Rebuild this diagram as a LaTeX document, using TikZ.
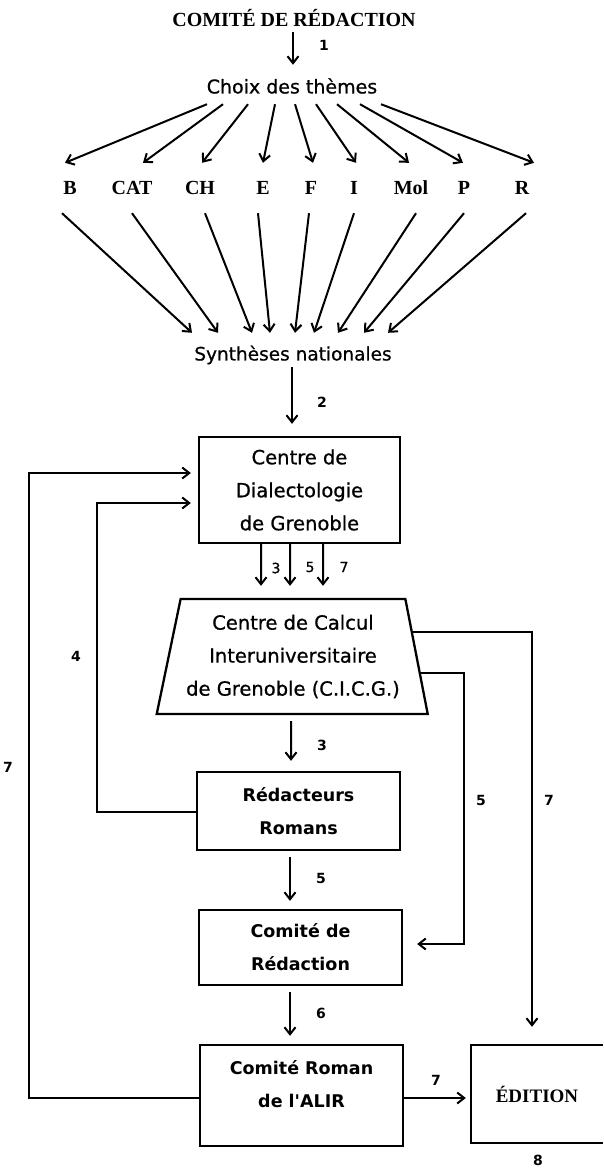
\documentclass[tikz,border=0pt]{standalone}
\usepackage{fontspec}
\usetikzlibrary{arrows.meta,shapes.geometric,calc}
\newfontfamily\sfx[FakeBold=0.8]{DejaVu Sans}
\newfontfamily\sfb{DejaVu Sans Bold}
\newfontfamily\srx{Liberation Serif}
\begin{document}
\begin{tikzpicture}[x=1pt,y=-1pt,
  arr/.style={line width=2pt,-{Straight Barb[length=7pt,width=11pt,line width=2pt]}},
  box/.style={draw,line width=2.3pt,rectangle,inner sep=0pt,align=center},
  boxreg/.style={font=\sfx\fontsize{19.5}{33}\selectfont},
  boxbold/.style={font=\sfb\fontsize{17.5}{33}\selectfont},
  lett/.style={font=\srx\bfseries\fontsize{20}{20}\selectfont,minimum height=50pt,inner sep=0pt},
  num/.style={font=\sfb\fontsize{14}{14}\selectfont,inner sep=0pt},
  numr/.style={font=\sfx\fontsize{14}{14}\selectfont,inner sep=0pt},
]
\fill[white] (0,0) rectangle (603,1168);
\path[use as bounding box] (0,0) rectangle (603,1168);

% top
\node[font=\srx\bfseries\fontsize{20}{20}\selectfont,inner sep=0pt] (title) at (294,18) {COMITÉ DE RÉDACTION};
\node[font=\sfx\fontsize{19}{19}\selectfont,inner sep=0pt,minimum height=36pt] (choix) at (292,86) {Choix des thèmes};
\draw[arr,shorten <=5pt] ([xshift=-1pt]title.south) -- ([xshift=1pt,yshift=3pt]choix.north);
\node[num] (lab1) at (324,45) {1};

\node[lett] (nB) at (70,188) {B};
\node[lett] (nCAT) at (132,188) {CAT};
\node[lett] (nCH) at (200,188) {CH};
\node[lett] (nE) at (263,188) {E};
\node[lett] (nF) at (311,188) {F};
\node[lett] (nI) at (354,188) {I};
\node[lett] (nMol) at (411,188) {Mol};
\node[lett] (nP) at (464,188) {P};
\node[lett] (nR) at (522,188) {R};

\node[font=\sfx\fontsize{18.5}{18.5}\selectfont,inner sep=0pt,minimum height=44pt] (synth) at (293,355) {Synthèses nationales};

\foreach \n/\s/\e in {nB/-85/-5, nCAT/-69/11, nCH/-44/2, nE/-17/0, nF/3/2, nI/24/2, nMol/45/-2, nP/68/-1, nR/89/12}
  \draw[arr] ([xshift=\s pt]choix.south) -- ([xshift=\e pt]\n.north);
\foreach \n/\s/\e in {nB/-8/-101, nCAT/0/-75, nCH/5/-41, nE/-5/-23, nF/-2/2, nI/0/21, nMol/5/45, nP/0/71, nR/4/95}
  \draw[arr] ([xshift=\s pt]\n.south) -- ([xshift=\e pt]synth.north);

% boxes
\node[box,boxreg,minimum width=201pt,minimum height=106pt] (dial) at (299.5,490) {Centre de\\Dialectologie\\de Grenoble};
\node[trapezium,draw,line width=2.3pt,trapezium left angle=74,trapezium right angle=75,
      trapezium stretches body,minimum width=271pt,minimum height=115pt,inner sep=0pt,
      boxreg,align=center] (trap) at (293,656.5) {Centre de Calcul\\Interuniversitaire\\de Grenoble (C.I.C.G.)};
\node[box,boxbold,minimum width=203pt,minimum height=78pt] (redac) at (298.5,811) {Rédacteurs\\Romans};
\node[box,boxbold,minimum width=203pt,minimum height=75pt] (comite) at (300.5,947.5) {Comité de\\Rédaction};
\node[box,minimum width=203pt,minimum height=101pt] (roman) at (301.5,1095.5) {};
\node[boxbold,align=center,inner sep=0pt] (romant) at (301.5,1084) {Comité Roman\\de l'ALIR};
\node[minimum width=132pt,minimum height=98pt,inner sep=0pt,font=\srx\bfseries\fontsize{19}{19}\selectfont] (ed) at (537,1094) {ÉDITION};
\draw[line width=2.3pt] (ed.north east) -- (ed.north west) -- (ed.south west) -- (ed.south east);

% connectors
\draw[arr] ([xshift=-1pt,yshift=10pt]synth.south) -- ([xshift=-7.5pt,yshift=12pt]dial.north);
\node[num] (lab2) at (322,402) {2};

\draw[arr,shorten >=12pt] ([xshift=-38.5pt]dial.south) -- ([xshift=-32pt]trap.north);
\draw[arr,shorten >=12pt] ([xshift=-9.5pt]dial.south) -- ([xshift=-3pt]trap.north);
\draw[arr,shorten >=12pt] ([xshift=23.5pt]dial.south) -- ([xshift=30pt]trap.north);
\node[numr] (lab3a) at (276,568) {3};
\node[numr] (lab5a) at (310,567) {5};
\node[numr] (lab7a) at (344,567) {7};

\draw[arr,shorten <=6pt,shorten >=10pt] ([xshift=-2pt]trap.south) -- ([xshift=-7.5pt]redac.north);
\node[num] (lab3b) at (322,745) {3};
\draw[arr,shorten <=6pt,shorten >=8pt] ([xshift=-8.5pt]redac.south) -- ([xshift=-10.5pt]comite.north);
\node[num] (lab5b) at (321,878) {5};
\draw[arr,shorten <=6pt,shorten >=8pt] ([xshift=-10.5pt]comite.south) -- ([xshift=-11.5pt]roman.north);
\node[num] (lab6) at (321,1013) {6};
\draw[arr,shorten >=5pt] ([yshift=-2.5pt]roman.east) -- ([yshift=-4pt]ed.west);
\node[num] (lab7b) at (436,1080) {7};

\draw[arr,shorten >=7pt] ([yshift=-1pt]redac.west) -- ++(-99,0) |- ([yshift=-13pt]dial.west);
\node[num] (lab4) at (76,656) {4};
\draw[arr,shorten >=7pt] ([yshift=-2.5pt]roman.west) -- ++(-170,0) |- ([yshift=17pt]dial.west);
\node[num] (lab7l) at (8,767) {7};

\draw[arr,shorten >=14pt] ($(trap.top right corner)!0.643!(trap.bottom right corner)$) -| ([xshift=61pt,yshift=3.5pt]comite.east) -- ([yshift=3.5pt]comite.east);
\node[num] (lab5r) at (481,800) {5};
\draw[arr,shorten >=18pt] ($(trap.top right corner)!0.287!(trap.bottom right corner)$) -| ([xshift=-5pt]ed.north);
\node[num] (lab7r) at (549,800) {7};
\node[num] (lab8) at (538,1160) {8};
\end{tikzpicture}
\end{document}
